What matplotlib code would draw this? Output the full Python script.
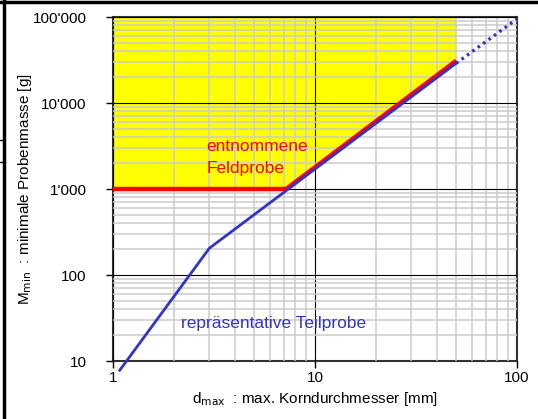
"""Minimale Probenmasse vs. maximaler Korndurchmesser (log-log)."""
import matplotlib.pyplot as plt
from matplotlib.lines import Line2D
import numpy as np

plt.rcParams["font.family"] = ["Liberation Sans", "DejaVu Sans"]

# Teilprobe (blue)
d_teil = [1.08, 3.0, 50.0]
m_teil = [7.8, 205, 29000]
# extrapolation (dotted)
d_ext = [50.0, 100.0]
m_ext = [29000, 95000]
# Feldprobe (red)
d_feld = [1.0, 7.2, 50.0]
m_feld = [1000, 1000, 31000]
# yellow area: Feldprobe up to the top
fill_top = 100000

x_ticks = [1, 10, 100]
x_labels = ["1", "10", "100"]
y_ticks = [10, 100, 1000, 10000, 100000]
y_labels = ["10", "100", "1'000", "10'000", "100'000"]

fig = plt.figure(figsize=(5.38, 4.19), dpi=100)
ax = fig.add_axes([0.210, 0.1384, 0.751, 0.821])
ax.set_xscale("log")
ax.set_yscale("log")
ax.set_xlim(1, 100)
ax.set_ylim(10, 100000)

ax.fill_between(d_feld, m_feld, fill_top, color="#ffff00", zorder=1, linewidth=0)

ax.grid(which="minor", color="#cccccc", linewidth=1.1, zorder=2)
ax.grid(which="major", color="black", linewidth=0.8, zorder=2)
ax.set_axisbelow(False)

ax.plot(d_feld, m_feld, color="#ff0000", linewidth=3.2, zorder=3,
        solid_capstyle="butt")
ax.plot(d_teil, m_teil, color="#3333cc", linewidth=2.0, zorder=4,
        clip_on=False)
ax.plot(d_ext, m_ext, color="#3333cc", linewidth=2.4, zorder=4,
        linestyle=(0, (0.8, 1.2)))

ax.text(2.9, 3100, "entnommene", color="#ff0000", fontsize=12.5, va="center")
ax.text(2.9, 1750, "Feldprobe", color="#ff0000", fontsize=12.5, va="center")
ax.text(2.17, 27, "repräsentative Teilprobe", color="#3333cc", fontsize=12.5,
        va="center")

ax.xaxis.set_major_locator(plt.FixedLocator(x_ticks))
ax.xaxis.set_major_formatter(plt.FixedFormatter(x_labels))
ax.yaxis.set_major_locator(plt.FixedLocator(y_ticks))
ax.yaxis.set_major_formatter(plt.FixedFormatter(y_labels))
ax.xaxis.set_minor_formatter(plt.NullFormatter())
ax.yaxis.set_minor_formatter(plt.NullFormatter())
ax.tick_params(which="major", direction="out", length=5, width=1,
               labelsize=11)
ax.tick_params(axis="x", which="major", pad=2)
ax.tick_params(axis="y", which="major", pad=14)
ax.tick_params(which="minor", length=0)

for s in ax.spines.values():
    s.set_linewidth(1.5)
    s.set_color("#333333")

ax.set_xlabel(r"d$_{\mathrm{max}}$  : max. Korndurchmesser [mm]", fontsize=11,
              labelpad=4)
ax.set_ylabel(r"M$_{\mathrm{min}}$  : minimale Probenmasse [g]", fontsize=11)
ax.yaxis.set_label_coords(-0.196, 0.5)

# surrounding frame pieces from the source page
fig.add_artist(Line2D([0, 1], [0.996, 0.996], color="black", linewidth=2.5,
                      transform=fig.transFigure))
fig.add_artist(Line2D([0.008, 0.008], [0, 1], color="black", linewidth=2.5,
                      transform=fig.transFigure))
for yy in (1 - 140 / 419, 1 - 162 / 419):
    fig.add_artist(Line2D([0, 0.007], [yy, yy], color="black", linewidth=1,
                          transform=fig.transFigure))

fig.savefig("out.png", dpi=100)
